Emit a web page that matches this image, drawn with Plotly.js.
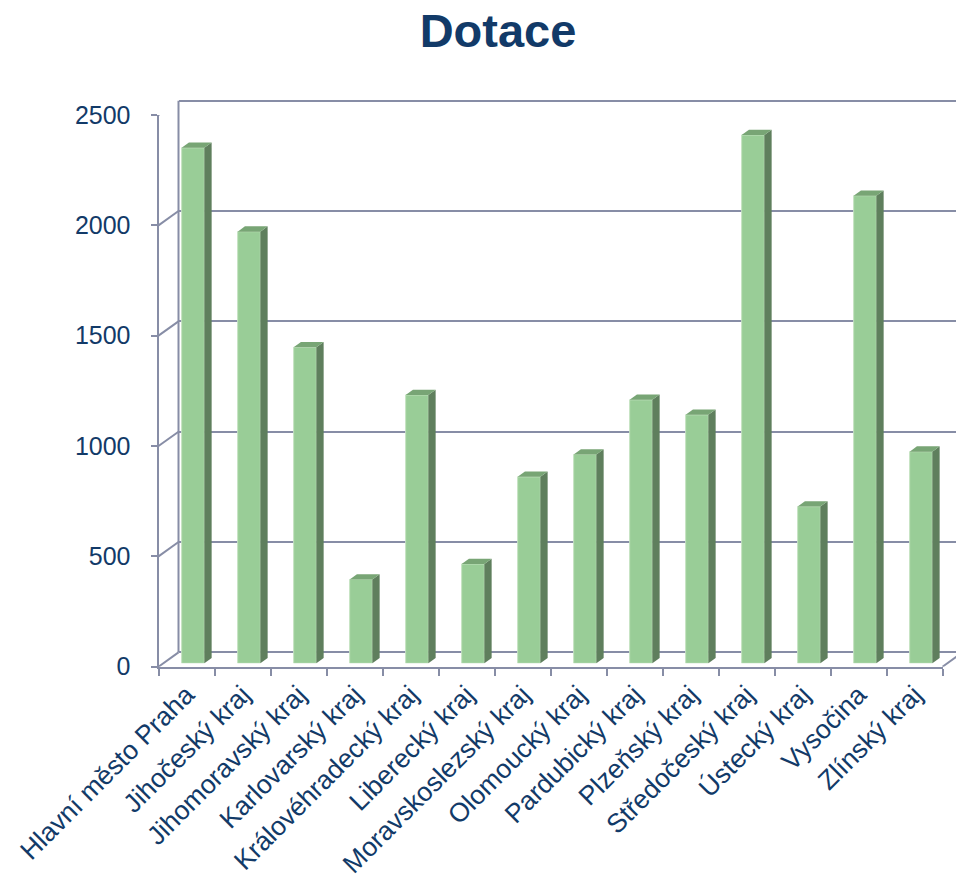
<!DOCTYPE html>
<html><head><meta charset="utf-8">
<script src="https://cdn.plot.ly/plotly-3.0.1.min.js"></script>
<style>html,body{margin:0;padding:0;background:#fff}#chart{width:956px;height:881px}</style>
</head><body><div id="chart"></div>
<script>
const categories = ['Hlavní město Praha','Jihočeský kraj','Jihomoravský kraj','Karlovarský kraj','Královéhradecký kraj','Liberecký kraj','Moravskoslezský kraj','Olomoucký kraj','Pardubický kraj','Plzeňský kraj','Středočeský kraj','Ústecký kraj','Vysočina','Zlínský kraj'];
const dotace = [2336, 1956, 1432, 380, 1216, 450, 845, 946, 1194, 1126, 2394, 710, 2119, 959];
const yTickValues = [0, 500, 1000, 1500, 2000, 2500];
const chartTitle = 'Dotace';

// geometry (pixels)
const W = 956, H = 881;
const FX0 = 158.5, FX1 = 942.5, FY0 = 666.7, FYT = 115;
const YMAX = 2500;
const SC = (FY0 - FYT) / YMAX;
const DEPTH_X = 20, DEPTH_Y = 14.3;
const BAR_DX = 6.5, BAR_DY = 3.4;
const CAT_W = (FX1 - FX0) / categories.length;
const BAR_HALF = 11.35, SIDE_W = 7.3, TOP_H = 5.3;
const LINE = '#878da6', NAVY = '#123a68';
const FRONT = '#99cd97', SIDE = '#5f7f5d', TOP = '#78a575';
const FONT = 'Arial, "Liberation Sans", sans-serif';
const fx = p => p / W, fy = p => 1 - p / H;
const E = 10;
const backX0 = FX0 + DEPTH_X;

const traces = [
  {type:'bar', x:categories, y:dotace, xaxis:'x2', yaxis:'y2',
   width: 2*BAR_HALF/CAT_W,
   marker:{color:FRONT, line:{color:'#c4e2c0', width:1}}, hoverinfo:'x+y'},
  {type:'scatter', x:categories, y:dotace, xaxis:'x3', yaxis:'y3', mode:'markers',
   marker:{opacity:0}, hoverinfo:'skip'}
];

const shapes = [];
// connectors from front axis to back wall
yTickValues.forEach(v => {
  shapes.push({type:'line', xref:'paper', yref:'y3', ysizemode:'pixel', yanchor:v,
    x0:fx(FX0), x1:fx(FX0+DEPTH_X), y0:0, y1:DEPTH_Y, line:{color:LINE, width:2}});
});
// right floor edge
shapes.push({type:'line', xref:'paper', yref:'y3', ysizemode:'pixel', yanchor:0,
  x0:fx(FX1), x1:fx(FX1+DEPTH_X), y0:0, y1:DEPTH_Y, line:{color:LINE, width:2}});
// back wall vertical edge
shapes.push({type:'line', xref:'paper', yref:'y', x0:fx(backX0), x1:fx(backX0), y0:0, y1:YMAX,
  line:{color:LINE, width:2}});
// 3D faces of bars
const d = TOP_H / SC;
dotace.forEach((v, i) => {
  const a = BAR_HALF, b = BAR_HALF + SIDE_W;
  shapes.push({type:'path', xref:'x2', yref:'y2', xsizemode:'pixel', xanchor:i,
    path:`M ${a},0 L ${b},${d} L ${b},${v+d} L ${a},${v} Z`,
    fillcolor:SIDE, line:{width:0}});
  shapes.push({type:'path', xref:'x2', yref:'y2', xsizemode:'pixel', xanchor:i,
    path:`M ${-a},${v} L ${a},${v} L ${b},${v+d} L ${-a+SIDE_W},${v+d} Z`,
    fillcolor:TOP, line:{width:0}});
});

const layout = {
  width:W, height:H, autosize:false,
  margin:{l:0, r:0, t:0, b:0, pad:0},
  paper_bgcolor:'#ffffff', plot_bgcolor:'rgba(0,0,0,0)',
  showlegend:false,
  title:{text:'<b>'+chartTitle+'</b>', font:{family:FONT, size:47, color:NAVY},
    x:498/W, xanchor:'center', y:1-31/H, yanchor:'middle'},
  // back wall
  xaxis:{domain:[fx(backX0), 1], range:[-0.5, -0.5 + (W-backX0)/CAT_W], visible:false, anchor:'y', fixedrange:true},
  yaxis:{domain:[fy(FY0-DEPTH_Y + E*SC), fy(FYT-DEPTH_Y - E*SC)], range:[-E, YMAX+E], anchor:'x',
    showgrid:true, gridcolor:LINE, gridwidth:2, tick0:0, dtick:500, ticks:'', showticklabels:false,
    zeroline:false, showline:false, fixedrange:true},
  // bars plane
  xaxis2:{domain:[fx(FX0+BAR_DX), fx(FX1+BAR_DX)], range:[-0.5, categories.length-0.5], visible:false, anchor:'y2', type:'category', fixedrange:true},
  yaxis2:{domain:[fy(FY0-BAR_DY), fy(FYT-BAR_DY)], range:[0, YMAX], visible:false, anchor:'x2', fixedrange:true},
  // front axes
  xaxis3:{domain:[fx(FX0), fx(FX1)], range:[-0.5, categories.length-0.5], anchor:'y3', type:'category',
    showline:true, linecolor:LINE, linewidth:2, ticks:'outside', tickson:'boundaries', ticklen:7, tickwidth:2,
    tickcolor:LINE, tickangle:-45, tickfont:{family:FONT, size:26.5, color:NAVY}, showgrid:false, zeroline:false, fixedrange:true},
  yaxis3:{domain:[fy(FY0), fy(FYT)], range:[0, YMAX], anchor:'x3',
    showline:true, linecolor:LINE, linewidth:2, ticks:'outside', ticklen:6, tickwidth:2, tickcolor:LINE,
    tickmode:'array', tickvals:yTickValues, ticktext:yTickValues.map(String),
    tickfont:{family:FONT, size:25, color:NAVY}, ticklabelstandoff:15, showgrid:false, zeroline:false, fixedrange:true},
  shapes:shapes
};

Plotly.newPlot('chart', traces, layout, {displayModeBar:false, responsive:false});
</script>
</body></html>
